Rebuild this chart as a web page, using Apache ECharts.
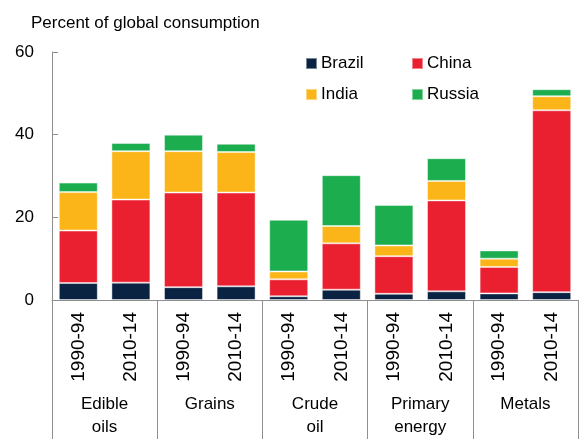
<!DOCTYPE html>
<html>
<head>
<meta charset="utf-8">
<script src="https://cdn.jsdelivr.net/npm/echarts@6/dist/echarts.min.js"></script>
<style>
  html, body { margin: 0; padding: 0; background: #fff; }
  #chart { width: 579px; height: 439px; }
</style>
</head>
<body>
<div id="chart"></div>
<script>
// bars: period within each commodity group
const periods = ['1990-94', '2010-14', '1990-94', '2010-14', '1990-94', '2010-14', '1990-94', '2010-14', '1990-94', '2010-14'];
const groups = ['Edible\noils', 'Grains', 'Crude\noil', 'Primary\nenergy', 'Metals'];
// share of global consumption, %
const brazil = [4.1, 4.2, 3.1, 3.3, 0.9, 2.5, 1.5, 2.1, 1.6, 1.9];
const china  = [12.7, 20.1, 22.9, 22.7, 4.1, 11.2, 9.1, 22.0, 6.4, 44.0];
const india  = [9.3, 11.7, 10.0, 9.8, 1.9, 4.2, 2.6, 4.7, 2.0, 3.4];
const russia = [2.3, 2.0, 4.0, 2.0, 12.5, 12.3, 9.8, 5.5, 2.0, 1.7];
const yTicks = [0, 20, 40, 60];

const FONT = '"Liberation Sans", Arial, sans-serif';
const GREY = '#8f8f8f';

const chart = echarts.init(document.getElementById('chart'), null, { renderer: 'canvas' });

function bar(name, data, color) {
    return {
        name: name,
        type: 'bar',
        stack: 'total',
        data: data,
        barWidth: 39,
        itemStyle: { color: color, borderColor: 'rgba(255,255,255,0.45)', borderWidth: 1 },
        emphasis: { disabled: true }
    };
}

// legend, two columns
const legendBase = {
    orient: 'vertical',
    top: 50,
    itemWidth: 11,
    itemHeight: 11,
    itemGap: 14,
    icon: 'rect',
    textStyle: { fontFamily: FONT, fontSize: 17, color: '#000', padding: [0, 0, 0, -1] }
};

chart.setOption({
    animation: false,
    textStyle: { fontFamily: FONT },
    title: {
        text: 'Percent of global consumption',
        left: 26,
        top: 10,
        textStyle: { fontFamily: FONT, fontSize: 17, fontWeight: 'normal', color: '#000' }
    },
    legend: [
        Object.assign({ data: ['Brazil', 'India'], left: 300 }, legendBase),
        Object.assign({ data: ['China', 'Russia'], left: 406 }, legendBase)
    ],
    // keep the plot fixed, the bottom labels are cut at the edge like the original
    grid: { left: 52, right: 1, top: 52, bottom: 139, outerBoundsMode: 'none', containLabel: false },
    xAxis: [
        {
            type: 'category',
            data: periods,
            axisLine: { show: true, lineStyle: { color: GREY, width: 1 } },
            axisTick: { show: false },
            axisLabel: {
                rotate: 90,
                margin: 12,
                fontFamily: FONT,
                fontSize: 19,
                color: '#000'
            }
        },
        {
            type: 'category',
            data: groups,
            position: 'bottom',
            axisLine: { show: false },
            axisTick: { show: true, length: 139, lineStyle: { color: GREY, width: 1 } },
            axisLabel: {
                margin: 93,
                fontFamily: FONT,
                fontSize: 17,
                lineHeight: 23,
                color: '#000'
            }
        }
    ],
    yAxis: {
        type: 'value',
        min: yTicks[0],
        max: yTicks[yTicks.length - 1],
        interval: 20,
        splitLine: { show: false },
        axisLine: { show: true, lineStyle: { color: GREY, width: 1 } },
        axisTick: { show: true, inside: true, length: 6, lineStyle: { color: GREY } },
        axisLabel: { margin: 18, fontFamily: FONT, fontSize: 17, color: '#000' }
    },
    series: [
        bar('Brazil', brazil, '#0b2343'),
        bar('China', china, '#ea1f2f'),
        bar('India', india, '#fbb519'),
        bar('Russia', russia, '#1cad4f')
    ]
});
</script>
</body>
</html>
